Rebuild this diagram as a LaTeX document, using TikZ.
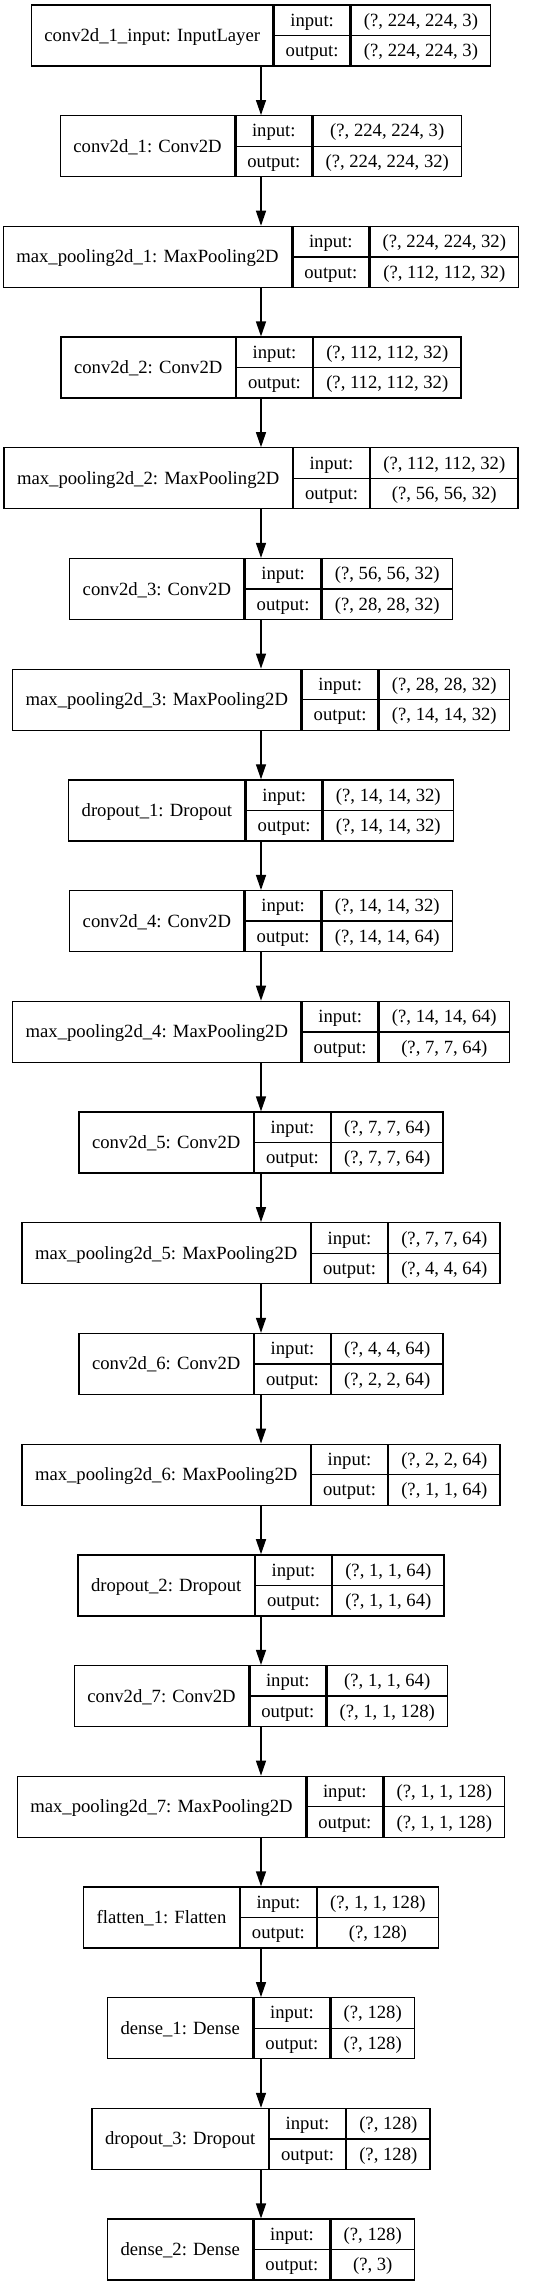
\documentclass[tikz,border=0pt]{standalone}
\usepackage{fontspec}
\setmainfont{Liberation Serif}
\usetikzlibrary{arrows.meta,positioning}

\newcommand\layerfont{\fontsize{14pt}{22.875pt}\selectfont}

% one layer as a record: name | input:/output: | shapes
\newcommand\layer[5]{%
  \matrix (#1) [record, #2] {
    \node[namecell] (#1-name) {#3}; \&
    \node[pair, inner xsep=8.5pt] (#1-io) {input:\\output:}; \&
    \node[pair, inner xsep=9.5pt] (#1-val) {#4\\#5}; \\
  };
  \draw (#1-io.west) -- (#1-val.east);
}

\begin{document}
\begin{tikzpicture}[>={Triangle[length=11.25pt,width=7.5pt]},line width=1pt,node distance=36.28pt,
    record/.style={inner sep=0pt,outer sep=0pt,column sep=0pt,ampersand replacement=\&},
    namecell/.style={draw,rectangle,outer sep=0pt,inner xsep=9.75pt,inner ysep=0pt,
      minimum height=45.75pt,text height=12pt,text depth=3pt,font=\layerfont},
    pair/.style={draw,rectangle,outer sep=0pt,inner ysep=0pt,align=center,
      minimum height=45.75pt,text height=34.875pt,text depth=3pt,font=\layerfont}]

    \useasboundingbox (0,0) rectangle (401.25pt,-1715.25pt);

    \layer{input1}{anchor=north,at={(195.75pt,-3.25pt)}}{conv2d\_1\_input: InputLayer}{(?, 224, 224, 3)}{(?, 224, 224, 3)}
    \layer{conv1}{below=of input1}{conv2d\_1: Conv2D}{(?, 224, 224, 3)}{(?, 224, 224, 32)}
    \layer{pool1}{below=of conv1}{max\_pooling2d\_1: MaxPooling2D}{(?, 224, 224, 32)}{(?, 112, 112, 32)}
    \layer{conv2}{below=of pool1}{conv2d\_2: Conv2D}{(?, 112, 112, 32)}{(?, 112, 112, 32)}
    \layer{pool2}{below=of conv2}{max\_pooling2d\_2: MaxPooling2D}{(?, 112, 112, 32)}{(?, 56, 56, 32)}
    \layer{conv3}{below=of pool2}{conv2d\_3: Conv2D}{(?, 56, 56, 32)}{(?, 28, 28, 32)}
    \layer{pool3}{below=of conv3}{max\_pooling2d\_3: MaxPooling2D}{(?, 28, 28, 32)}{(?, 14, 14, 32)}
    \layer{drop1}{below=of pool3}{dropout\_1: Dropout}{(?, 14, 14, 32)}{(?, 14, 14, 32)}
    \layer{conv4}{below=of drop1}{conv2d\_4: Conv2D}{(?, 14, 14, 32)}{(?, 14, 14, 64)}
    \layer{pool4}{below=of conv4}{max\_pooling2d\_4: MaxPooling2D}{(?, 14, 14, 64)}{(?, 7, 7, 64)}
    \layer{conv5}{below=of pool4}{conv2d\_5: Conv2D}{(?, 7, 7, 64)}{(?, 7, 7, 64)}
    \layer{pool5}{below=of conv5}{max\_pooling2d\_5: MaxPooling2D}{(?, 7, 7, 64)}{(?, 4, 4, 64)}
    \layer{conv6}{below=of pool5}{conv2d\_6: Conv2D}{(?, 4, 4, 64)}{(?, 2, 2, 64)}
    \layer{pool6}{below=of conv6}{max\_pooling2d\_6: MaxPooling2D}{(?, 2, 2, 64)}{(?, 1, 1, 64)}
    \layer{drop2}{below=of pool6}{dropout\_2: Dropout}{(?, 1, 1, 64)}{(?, 1, 1, 64)}
    \layer{conv7}{below=of drop2}{conv2d\_7: Conv2D}{(?, 1, 1, 64)}{(?, 1, 1, 128)}
    \layer{pool7}{below=of conv7}{max\_pooling2d\_7: MaxPooling2D}{(?, 1, 1, 128)}{(?, 1, 1, 128)}
    \layer{flat1}{below=of pool7}{flatten\_1: Flatten}{(?, 1, 1, 128)}{(?, 128)}
    \layer{dense1}{below=of flat1}{dense\_1: Dense}{(?, 128)}{(?, 128)}
    \layer{drop3}{below=of dense1}{dropout\_3: Dropout}{(?, 128)}{(?, 128)}
    \layer{dense2}{below=of drop3}{dense\_2: Dense}{(?, 128)}{(?, 3)}

    \path[->] (input1) edge (conv1)
              (conv1) edge (pool1)
              (pool1) edge (conv2)
              (conv2) edge (pool2)
              (pool2) edge (conv3)
              (conv3) edge (pool3)
              (pool3) edge (drop1)
              (drop1) edge (conv4)
              (conv4) edge (pool4)
              (pool4) edge (conv5)
              (conv5) edge (pool5)
              (pool5) edge (conv6)
              (conv6) edge (pool6)
              (pool6) edge (drop2)
              (drop2) edge (conv7)
              (conv7) edge (pool7)
              (pool7) edge (flat1)
              (flat1) edge (dense1)
              (dense1) edge (drop3)
              (drop3) edge (dense2);

\end{tikzpicture}
\end{document}
